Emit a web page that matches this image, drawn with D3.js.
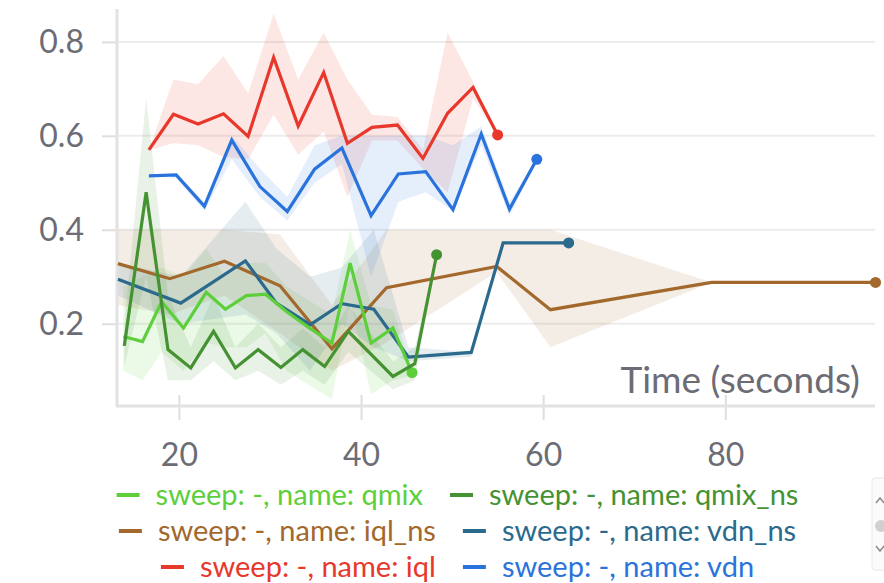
<!DOCTYPE html>
<html>
<head>
<meta charset="utf-8">
<script src="https://cdn.jsdelivr.net/npm/d3@7"></script>
<style>
  html, body { margin: 0; padding: 0; background: #ffffff; }
  svg { display: block; font-family: Lato, "Open Sans", "Noto Sans", sans-serif; }
</style>
</head>
<body>
<svg id="chart" width="884" height="583"></svg>
<script>
// ---- data: time (s) per run, smoothed return, and min/max band ----
const qmixT  = [13.9, 16.0, 18.1, 20.5, 23.0, 25.1, 27.4, 29.5, 31.8, 34.2, 36.8, 38.8, 41.1, 43.5, 45.6];
const qmixV  = [0.173, 0.162, 0.247, 0.191, 0.267, 0.231, 0.260, 0.263, 0.226, 0.193, 0.159, 0.329, 0.159, 0.191, 0.096];
const qmixHi = [0.28, 0.30, 0.32, 0.30, 0.36, 0.30, 0.33, 0.33, 0.28, 0.25, 0.22, 0.40, 0.24, 0.23, 0.10];
const qmixLo = [0.10, 0.08, 0.14, 0.10, 0.16, 0.15, 0.15, 0.18, 0.10, 0.07, 0.04, 0.25, 0.05, 0.08, 0.09];

const qmixNsT  = [14.0, 16.4, 18.8, 21.3, 23.8, 26.2, 28.7, 31.2, 33.6, 36.0, 38.6, 43.5, 45.9, 48.3];
const qmixNsV  = [0.153, 0.480, 0.145, 0.106, 0.184, 0.106, 0.145, 0.107, 0.145, 0.109, 0.184, 0.088, 0.115, 0.347];
const qmixNsHi = [0.20, 0.68, 0.26, 0.15, 0.26, 0.15, 0.20, 0.15, 0.19, 0.15, 0.24, 0.12, 0.15, 0.347];
const qmixNsLo = [0.11, 0.30, 0.08, 0.08, 0.12, 0.08, 0.10, 0.07, 0.10, 0.07, 0.14, 0.06, 0.08, 0.347];

const iqlNsT  = [13.3, 19.0, 25.0, 31.1, 36.8, 42.8, 54.9, 60.8, 78.5, 96.5];
const iqlNsV  = [0.328, 0.296, 0.333, 0.281, 0.147, 0.277, 0.322, 0.230, 0.288, 0.288];
const iqlNsHi = [0.40, 0.40, 0.40, 0.39, 0.24, 0.40, 0.40, 0.40, 0.288, 0.288];
const iqlNsLo = [0.24, 0.22, 0.26, 0.18, 0.10, 0.16, 0.31, 0.15, 0.288, 0.288];

const vdnNsT  = [13.3, 20.2, 27.3, 30.7, 34.4, 37.9, 41.4, 45.2, 52.1, 55.6, 62.8];
const vdnNsV  = [0.295, 0.244, 0.334, 0.244, 0.198, 0.243, 0.231, 0.129, 0.139, 0.372, 0.372];
const vdnNsHi = [0.33, 0.30, 0.46, 0.36, 0.30, 0.32, 0.40, 0.15, 0.14, 0.372, 0.372];
const vdnNsLo = [0.26, 0.20, 0.22, 0.18, 0.10, 0.20, 0.15, 0.12, 0.13, 0.372, 0.372];

const iqlT  = [16.7, 19.4, 22.1, 24.9, 27.6, 30.4, 33.1, 35.9, 38.5, 41.2, 44.0, 46.8, 49.5, 52.3, 55.0];
const iqlV  = [0.570, 0.646, 0.625, 0.647, 0.599, 0.767, 0.621, 0.735, 0.584, 0.618, 0.623, 0.552, 0.648, 0.703, 0.602];
const iqlHi = [0.57, 0.72, 0.71, 0.77, 0.69, 0.86, 0.72, 0.82, 0.72, 0.645, 0.64, 0.57, 0.82, 0.715, 0.602];
const iqlLo = [0.57, 0.585, 0.58, 0.555, 0.55, 0.645, 0.56, 0.61, 0.47, 0.59, 0.59, 0.53, 0.48, 0.68, 0.602];

const vdnT  = [16.7, 19.7, 22.8, 25.8, 28.9, 31.9, 34.9, 37.9, 41.1, 44.1, 47.1, 50.1, 53.2, 56.3, 59.3];
const vdnV  = [0.515, 0.517, 0.450, 0.591, 0.492, 0.439, 0.529, 0.574, 0.430, 0.519, 0.524, 0.443, 0.604, 0.444, 0.550];
const vdnHi = [0.515, 0.52, 0.46, 0.60, 0.53, 0.47, 0.58, 0.60, 0.60, 0.60, 0.60, 0.58, 0.62, 0.46, 0.55];
const vdnLo = [0.515, 0.51, 0.44, 0.55, 0.47, 0.42, 0.50, 0.54, 0.30, 0.46, 0.48, 0.44, 0.58, 0.43, 0.55];

const xTicks = [20, 40, 60, 80];
const yTicks = [0.2, 0.4, 0.6, 0.8];
const xLabel = "Time (seconds)";

const runs = [
  { name: "qmix",    color: "#5ccf3a", t: qmixT,   v: qmixV,   hi: qmixHi,   lo: qmixLo },
  { name: "qmix_ns", color: "#459232", t: qmixNsT, v: qmixNsV, hi: qmixNsHi, lo: qmixNsLo },
  { name: "iql_ns",  color: "#a2682c", t: iqlNsT,  v: iqlNsV,  hi: iqlNsHi,  lo: iqlNsLo },
  { name: "vdn_ns",  color: "#2b6a8d", t: vdnNsT,  v: vdnNsV,  hi: vdnNsHi,  lo: vdnNsLo },
  { name: "iql",     color: "#e8372b", t: iqlT,    v: iqlV,    hi: iqlHi,    lo: iqlLo },
  { name: "vdn",     color: "#2a73dc", t: vdnT,    v: vdnV,    hi: vdnHi,    lo: vdnLo }
];
const legendRows = [["qmix", "qmix_ns"], ["iql_ns", "vdn_ns"], ["iql", "vdn"]];
const lineOrder = ["iql_ns", "vdn_ns", "qmix", "qmix_ns", "iql", "vdn"];

// ---- layout ----
const svg = d3.select("#chart");
const plotL = 117, plotR = 875, plotT = 9, plotB = 406;
const x = d3.scaleLinear().domain([13.2, 96]).range([117, 871]);
const y = d3.scaleLinear().domain([0.025, 0.87]).range([406, 9]);
const textGray = "#6c6c75";

// grid lines
svg.append("g").selectAll("line").data(yTicks).join("line")
  .attr("x1", plotL).attr("x2", plotR)
  .attr("y1", d => y(d)).attr("y2", d => y(d))
  .attr("stroke", "#ececec").attr("stroke-width", 2);

// bands and lines
const area = d3.area().x(d => x(d.t)).y0(d => y(d.lo)).y1(d => y(d.hi));
const line = d3.line().x(d => x(d.t)).y(d => y(d.v));
const pts = r => r.t.map((t, i) => ({ t, v: r.v[i], hi: r.hi[i], lo: r.lo[i] }));

const bandG = svg.append("g");
runs.forEach(r => {
  bandG.append("path").datum(pts(r)).attr("d", area)
    .attr("fill", r.color).attr("fill-opacity", 0.12);
});

// axes
const yAxis = d3.axisLeft(y).tickValues(yTicks).tickSize(15).tickPadding(18)
  .tickFormat(d3.format(".1f"));
const gy = svg.append("g").attr("transform", `translate(${plotL},0)`).call(yAxis);
gy.select(".domain").remove();
gy.selectAll(".tick line").attr("stroke", "#dedede").attr("stroke-width", 2);
gy.selectAll(".tick text").attr("fill", textGray).style("font-size", "32px")
  .style("font-family", "Lato, 'Open Sans', sans-serif");

const xAxis = d3.axisBottom(x).tickValues(xTicks).tickSize(25).tickPadding(23)
  .tickFormat(d3.format("d"));
const gx = svg.append("g").attr("transform", `translate(0,395)`).call(xAxis);
gx.select(".domain").remove();
gx.selectAll(".tick line").attr("stroke", "#dedede").attr("stroke-width", 2);
gx.selectAll(".tick text").attr("fill", textGray).style("font-size", "32px")
  .style("font-family", "Lato, 'Open Sans', sans-serif");

svg.append("path")
  .attr("d", `M${plotL},${plotT} V${plotB} H${plotR}`)
  .attr("fill", "none").attr("stroke", "#e2e2e2").attr("stroke-width", 3);

const lineG = svg.append("g");
lineOrder.forEach(n => {
  const r = runs.find(d => d.name === n);
  const p = pts(r);
  lineG.append("path").datum(p).attr("d", line)
    .attr("fill", "none").attr("stroke", r.color).attr("stroke-width", 3.2);
  const last = p[p.length - 1];
  lineG.append("circle").attr("cx", x(last.t)).attr("cy", y(last.v)).attr("r", 5.5)
    .attr("fill", r.color);
});

svg.append("text").attr("x", 860).attr("y", 393).attr("text-anchor", "end")
  .attr("fill", textGray).style("font-size", "37px").text(xLabel);

// legend, each row centred
const legendCx = 457.5, rowY = [495, 531, 567];
legendRows.forEach((row, ri) => {
  const g = svg.append("g");
  let cursor = 0;
  row.forEach((n, k) => {
    const r = runs.find(d => d.name === n);
    if (k > 0) cursor += 27;
    g.append("line").attr("x1", cursor).attr("x2", cursor + 23)
      .attr("y1", 0).attr("y2", 0).attr("stroke", r.color).attr("stroke-width", 4);
    const t = g.append("text").attr("x", cursor + 39).attr("y", 9.5)
      .attr("fill", r.color).style("font-size", "29px")
      .text(`sweep: -, name: ${n}`);
    cursor += 39 + t.node().getComputedTextLength();
  });
  g.attr("transform", `translate(${legendCx - cursor / 2},${rowY[ri]})`);
});

// partially visible scroll control at the right edge
const ctl = svg.append("g");
ctl.append("rect").attr("x", 872).attr("y", 478).attr("width", 22).attr("height", 92)
  .attr("rx", 3).attr("fill", "#fbfbfb").attr("stroke", "#e8e8e8");
ctl.append("path").attr("d", "M876,503 L880,498 L884,503").attr("fill", "none")
  .attr("stroke", "#8a8a8a").attr("stroke-width", 1.5);
ctl.append("circle").attr("cx", 881).attr("cy", 526).attr("r", 6).attr("fill", "#d0d0d0");
ctl.append("path").attr("d", "M876,546 L880,551 L884,546").attr("fill", "none")
  .attr("stroke", "#8a8a8a").attr("stroke-width", 1.5);
</script>
</body>
</html>
